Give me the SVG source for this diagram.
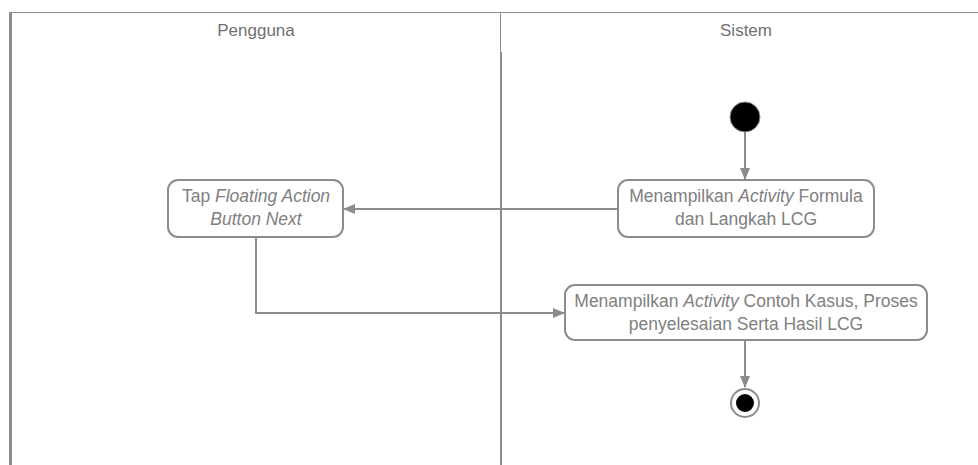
<svg xmlns="http://www.w3.org/2000/svg" width="978" height="465" viewBox="0 0 978 465">
  <style>
    .lane { stroke: #8c8c8c; fill: none; }
    .hdr { font-family: "Liberation Sans", Arial, sans-serif; font-size: 17px; fill: #707070; text-anchor: middle; }
    .act rect { fill: #ffffff; stroke: #8c8c8c; stroke-width: 2; }
    .act text { font-family: "Liberation Sans", Arial, sans-serif; font-size: 17.5px; fill: #808080; text-anchor: middle; }
    .edge { stroke: #8c8c8c; stroke-width: 2; fill: none; }
  </style>
  <defs>
    <marker id="arrow" viewBox="0 0 12 12" refX="11" refY="6" markerWidth="12" markerHeight="12" markerUnits="userSpaceOnUse" orient="auto">
      <path d="M0,1 L12,6 L0,11 Z" fill="#8c8c8c"/>
    </marker>
  </defs>
  <rect width="978" height="465" fill="#ffffff"/>

  <!-- swimlane frame -->
  <g id="lanes">
    <line class="lane" x1="10" y1="12.5" x2="978" y2="12.5" stroke-width="1"/>
    <line class="lane" x1="10.5" y1="12" x2="10.5" y2="465" stroke-width="3"/>
    <line class="lane" x1="500.5" y1="12" x2="500.5" y2="52" stroke-width="1"/>
    <line class="lane" x1="501" y1="52" x2="501" y2="465" stroke-width="2"/>
    <text class="hdr" x="256" y="36">Pengguna</text>
    <text class="hdr" x="746" y="36">Sistem</text>
  </g>

  <!-- connectors -->
  <g id="connectors">
    <line class="edge" x1="745" y1="132" x2="745" y2="179" marker-end="url(#arrow)"/>
    <line class="edge" x1="618" y1="209" x2="344" y2="209" marker-end="url(#arrow)"/>
    <polyline class="edge" points="256,237 256,313 564,313" marker-end="url(#arrow)"/>
    <line class="edge" x1="745" y1="340" x2="745" y2="387" marker-end="url(#arrow)"/>
  </g>

  <g id="start">
    <circle cx="745" cy="117" r="15" fill="#000000" stroke="#8c8c8c" stroke-width="1"/>
  </g>

  <g id="tampil-formula" class="act">
    <rect x="618" y="180" width="256" height="57" rx="10"/>
    <text x="746" y="202">Menampilkan <tspan font-style="italic">Activity</tspan> Formula</text>
    <text x="746" y="225">dan Langkah LCG</text>
  </g>

  <g id="tap-next" class="act">
    <rect x="168" y="180" width="175" height="57" rx="10"/>
    <text x="256" y="202">Tap <tspan font-style="italic">Floating Action</tspan></text>
    <text x="256" y="225" font-style="italic">Button Next</text>
  </g>

  <g id="tampil-contoh" class="act">
    <rect x="565" y="285" width="362" height="55" rx="10"/>
    <text x="746" y="307">Menampilkan <tspan font-style="italic">Activity</tspan> Contoh Kasus, Proses</text>
    <text x="746" y="330">penyelesaian Serta Hasil LCG</text>
  </g>

  <g id="end">
    <circle cx="745" cy="403" r="14" fill="#ffffff" stroke="#8c8c8c" stroke-width="2"/>
    <circle cx="745" cy="403" r="9" fill="#000000"/>
  </g>
</svg>
